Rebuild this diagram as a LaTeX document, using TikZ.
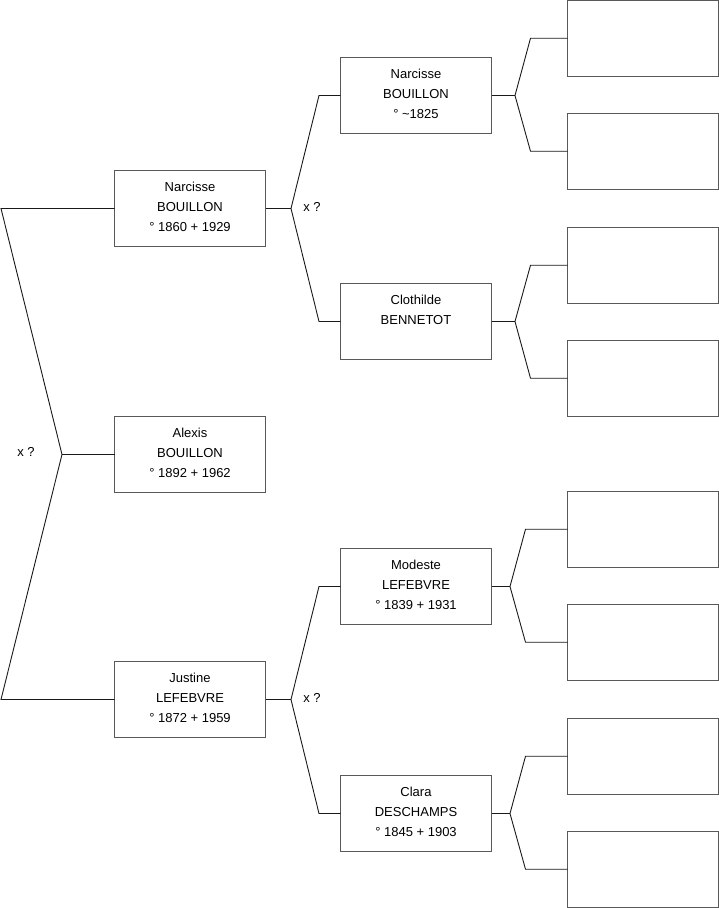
\documentclass[tikz,border=0pt]{standalone}
\usepackage{fontspec}
\setmainfont{Liberation Sans}
\begin{document}
\begin{tikzpicture}[x=1pt,y=-1pt,
  box/.style={draw=black!65, line width=1pt, minimum width=151pt, minimum height=76pt, inner sep=0pt, outer sep=0pt, anchor=north west},
  ebox/.style={box, minimum height=75.5pt},
  txt/.style={align=center, font=\fontsize{13}{20}\selectfont, inner sep=0pt, anchor=base},
  link/.style={draw=black!90, line width=0.9pt},
  marklabel/.style={font=\fontsize{13}{16}\selectfont, inner sep=0pt}]
\useasboundingbox (0,0) rectangle (719,908);

% generation 1
\node[box] (p1) at (114.5,416.5) {};
\node[txt] (t1) at ([yshift=-60.5pt]p1.north) {Alexis\\BOUILLON\\° 1892 + 1962};
% generation 2
\node[box] (p2) at (114.5,170.5) {};
\node[txt] (t2) at ([yshift=-60.5pt]p2.north) {Narcisse\\BOUILLON\\° 1860 + 1929};
\node[box] (p3) at (114.5,661.5) {};
\node[txt] (t3) at ([yshift=-60.5pt]p3.north) {Justine\\LEFEBVRE\\° 1872 + 1959};
% generation 3
\node[box] (p4) at (340.5,57.5) {};
\node[txt] (t4) at ([yshift=-60.5pt]p4.north) {Narcisse\\BOUILLON\\° \textasciitilde1825};
\node[box] (p5) at (340.5,283.5) {};
\node[txt] (t5) at ([yshift=-40.5pt]p5.north) {Clothilde\\BENNETOT};
\node[box] (p6) at (340.5,548.5) {};
\node[txt] (t6) at ([yshift=-60.5pt]p6.north) {Modeste\\LEFEBVRE\\° 1839 + 1931};
\node[box] (p7) at (340.5,775.5) {};
\node[txt] (t7) at ([yshift=-60.5pt]p7.north) {Clara\\DESCHAMPS\\° 1845 + 1903};
% generation 4 (empty)
\node[ebox] (e1) at (567.5,0.5) {};
\node[ebox] (e2) at (567.5,113.5) {};
\node[ebox] (e3) at (567.5,227.5) {};
\node[ebox] (e4) at (567.5,340.5) {};
\node[ebox] (e5) at (567.5,491.5) {};
\node[ebox] (e6) at (567.5,604.5) {};
\node[ebox] (e7) at (567.5,718.5) {};
\node[ebox] (e8) at (567.5,831.5) {};

% junctions
\coordinate (j1) at ([xshift=-52.5pt]p1.west);
\coordinate (j2) at ([xshift=25.5pt]p2.east);
\coordinate (j3) at ([xshift=25.5pt]p3.east);
\coordinate (j4) at ([xshift=23.5pt]p4.east);
\coordinate (j5) at ([xshift=23.5pt]p5.east);
\coordinate (j6) at ([xshift=18.5pt]p6.east);
\coordinate (j7) at ([xshift=18.5pt]p7.east);

% gen1 -> gen2
\draw[link] (p1.west) -- (j1);
\draw[link] (j1) -- ([xshift=-113.5pt]p2.west) -- (p2.west);
\draw[link] (j1) -- ([xshift=-113.5pt]p3.west) -- (p3.west);
% gen2 -> gen3
\draw[link] (p2.east) -- (j2);
\draw[link] (j2) -- ([xshift=-21.5pt]p4.west) -- (p4.west);
\draw[link] (j2) -- ([xshift=-21.5pt]p5.west) -- (p5.west);
\draw[link] (p3.east) -- (j3);
\draw[link] (j3) -- ([xshift=-21.5pt]p6.west) -- (p6.west);
\draw[link] (j3) -- ([xshift=-21.5pt]p7.west) -- (p7.west);
% gen3 -> gen4
\draw[link] (p4.east) -- (j4);
\draw[link] (j4) -- ([xshift=-37pt]e1.west) -- (e1.west);
\draw[link] (j4) -- ([xshift=-37pt]e2.west) -- (e2.west);
\draw[link] (p5.east) -- (j5);
\draw[link] (j5) -- ([xshift=-37pt]e3.west) -- (e3.west);
\draw[link] (j5) -- ([xshift=-37pt]e4.west) -- (e4.west);
\draw[link] (p6.east) -- (j6);
\draw[link] (j6) -- ([xshift=-42pt]e5.west) -- (e5.west);
\draw[link] (j6) -- ([xshift=-42pt]e6.west) -- (e6.west);
\draw[link] (p7.east) -- (j7);
\draw[link] (j7) -- ([xshift=-42pt]e7.west) -- (e7.west);
\draw[link] (j7) -- ([xshift=-42pt]e8.west) -- (e8.west);

% marriage marks
\node[marklabel] (m1) at (26,451.5) {x ?};
\node[marklabel] (m2) at (312,207) {x ?};
\node[marklabel] (m3) at (312,697.5) {x ?};
\end{tikzpicture}
\end{document}
